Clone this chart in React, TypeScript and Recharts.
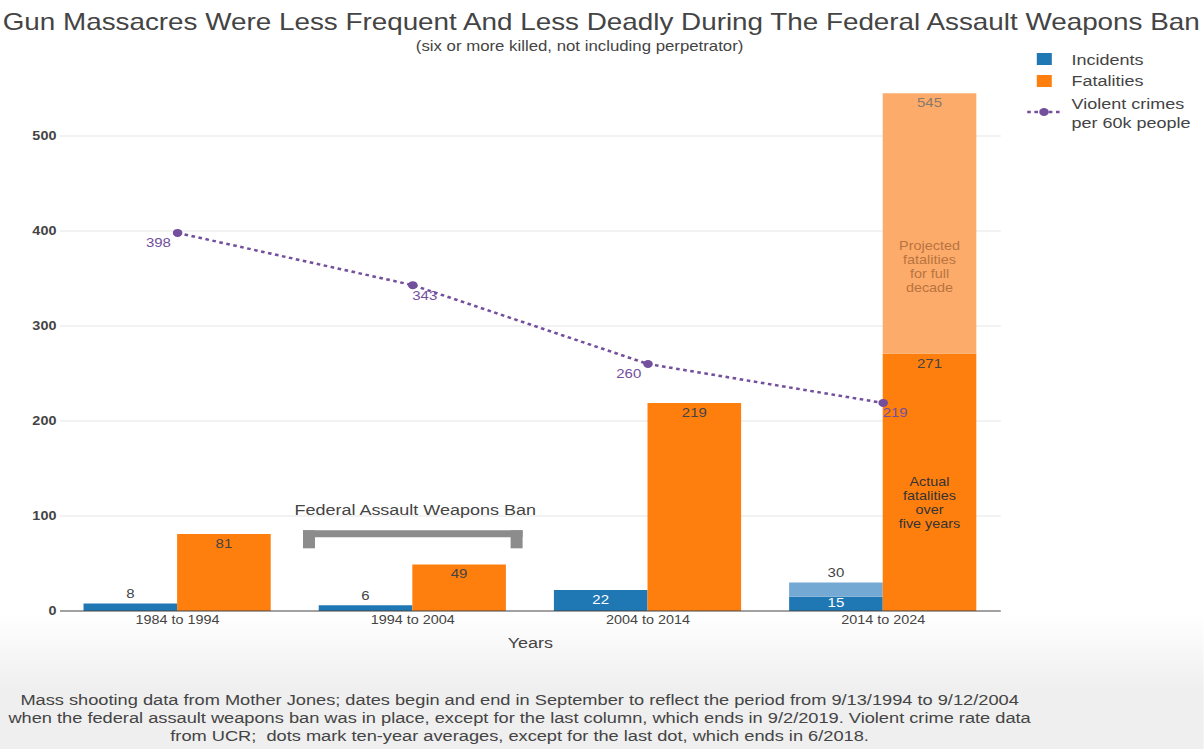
import React from 'react';
import {
  ComposedChart,
  Bar,
  Line,
  XAxis,
  YAxis,
  CartesianGrid,
  LabelList,
  ReferenceArea,
  Label,
} from 'recharts';

// ---- data -------------------------------------------------------------
const periods = ['1984 to 1994', '1994 to 2004', '2004 to 2014', '2014 to 2024'];
const incidents = [8, 6, 22, 15];
const incidentsFullDecade = [8, 6, 22, 30];
const fatalities = [81, 49, 219, 271];
const fatalitiesFullDecade = [81, 49, 219, 545];
const violentCrimesPer60k = [398, 343, 260, 219];
const yTicks = [0, 100, 200, 300, 400, 500];
const banPeriod = '1994 to 2004';

const rows = periods.map((period, i) => ({
  period,
  incidents: incidents[i],
  incidentsProjected: incidentsFullDecade[i] - incidents[i],
  incidentsTotal: incidentsFullDecade[i],
  fatalities: fatalities[i],
  fatalitiesProjected: fatalitiesFullDecade[i] - fatalities[i],
  fatalitiesTotal: fatalitiesFullDecade[i],
  violentCrimes: violentCrimesPer60k[i],
}));

// ---- styling ----------------------------------------------------------
const FONT = '"Liberation Sans", Arial, Helvetica, sans-serif';
const BLUE = '#1f77b4';
const BLUE_LIGHT = '#74a9d3';
const ORANGE = '#ff7f0e';
const ORANGE_LIGHT = '#fdab6b';
const PURPLE = '#734f9c';
const TEXT = '#444';

// the figure is laid out on a narrower canvas and stretched horizontally
const STRETCH = 1.2;
const PAGE_W = 1204;
const PAGE_H = 749;
const CANVAS_W = PAGE_W / STRETCH;

function boxOf(p: any) {
  const vb = p.viewBox || {};
  return {
    x: Number(vb.x ?? p.x ?? 0),
    y: Number(vb.y ?? p.y ?? 0),
    w: Number(vb.width ?? p.width ?? 0),
    h: Number(vb.height ?? p.height ?? 0),
  };
}

const labelText = {
  fontFamily: FONT,
  fontSize: 12.5,
  textAnchor: 'middle' as const,
};

function MultiLine({ cx, cy, lines, fill }: { cx: number; cy: number; lines: string[]; fill: string }) {
  const step = 14;
  return (
    <text {...labelText} fontSize={12} fill={fill}>
      {lines.map((l, k) => (
        <tspan key={k} x={cx} y={cy + (k - (lines.length - 1) / 2) * step + 4.5}>
          {l}
        </tspan>
      ))}
    </text>
  );
}

// incident count: inside the bar when it fits, otherwise just above it
const incidentLabel = (p: any) => {
  const { x, y, w, h } = boxOf(p);
  const v = Number(p.value);
  if (!v) return null;
  const cx = x + w / 2;
  if (h >= 12) {
    return (
      <text {...labelText} x={cx} y={Math.min(y + 14, y + h - 4)} fill="#fff">
        {v}
      </text>
    );
  }
  return (
    <text {...labelText} x={cx} y={y - 5} fill={TEXT}>
      {v}
    </text>
  );
};

// full-decade incident total above the projected segment
const incidentTotalLabel = (p: any) => {
  const { x, y, w, h } = boxOf(p);
  if (h < 0.5) return null;
  return (
    <text {...labelText} x={x + w / 2} y={y - 5} fill={TEXT}>
      {p.value}
    </text>
  );
};

const fatalityLabel = (p: any) => {
  const { x, y, w, h } = boxOf(p);
  if (h < 0.5) return null;
  return (
    <text {...labelText} x={x + w / 2} y={y + 14} fill={TEXT}>
      {p.value}
    </text>
  );
};

// projected segment: decade total plus its explanation
const fatalityTotalLabel = (p: any) => {
  const { x, y, w, h } = boxOf(p);
  if (h < 0.5) return null;
  const cx = x + w / 2;
  return (
    <g>
      <text {...labelText} x={cx} y={y + 14} fill="#8a7968">
        {p.value}
      </text>
      <MultiLine
        cx={cx}
        cy={y + h * 0.664}
        lines={['Projected', 'fatalities', 'for full', 'decade']}
        fill="#b8743f"
      />
    </g>
  );
};

// actual segment of a column that also carries a projection
const actualNoteLabel = (p: any) => {
  const { x, y, w, h } = boxOf(p);
  if (!Number(p.value)) return null;
  return (
    <MultiLine
      cx={x + w / 2}
      cy={y + h * 0.577}
      lines={['Actual', 'fatalities', 'over', 'five years']}
      fill="#333"
    />
  );
};

const crimeLabel = (p: any) => {
  const { x, y } = boxOf(p);
  const i = p.index ?? violentCrimesPer60k.indexOf(Number(p.value));
  const dx = i % 2 === 0 ? -16 : 10;
  return (
    <text {...labelText} x={x + dx} y={y + 14.5} fill={PURPLE}>
      {p.value}
    </text>
  );
};

// grey bracket marking the assault weapons ban decade
const BanBracket = (p: any) => {
  const x = Number(p.x);
  const y = Number(p.y);
  const width = Number(p.width);
  const height = Number(p.height);
  const inset = 6.5;
  const leg = 10;
  const bar = 7;
  const left = x + inset;
  const right = x + width - inset;
  return (
    <g>
      <rect x={left} y={y} width={right - left} height={bar} fill="#8c8c8c" />
      <rect x={left} y={y} width={leg} height={height} fill="#8c8c8c" />
      <rect x={right - leg} y={y} width={leg} height={height} fill="#8c8c8c" />
      <text
        x={x + width / 2 + 2}
        y={y - 15}
        textAnchor="middle"
        fontFamily={FONT}
        fontSize={15}
        fill={TEXT}
      >
        Federal Assault Weapons Ban
      </text>
    </g>
  );
};

const footerLines = [
  'Mass shooting data from Mother Jones; dates begin and end in September to reflect the period from 9/13/1994 to 9/12/2004',
  'when the federal assault weapons ban was in place, except for the last column, which ends in 9/2/2019. Violent crime rate data',
  'from UCR;  dots mark ten-year averages, except for the last dot, which ends in 6/2018.',
];

function Legend() {
  return (
    <g fontFamily={FONT} fontSize={15} fill={TEXT}>
      <rect x={864} y={53} width={12.5} height={12} fill={BLUE} />
      <text x={893} y={65.2}>Incidents</text>
      <rect x={864} y={75} width={12.5} height={12} fill={ORANGE} />
      <text x={893} y={86.4}>Fatalities</text>
      <line
        x1={856}
        x2={884}
        y1={112}
        y2={112}
        stroke={PURPLE}
        strokeWidth={2.5}
        strokeDasharray="3 3"
      />
      <circle cx={870} cy={112} r={4} fill={PURPLE} />
      <text x={893} y={109}>Violent crimes</text>
      <text x={893} y={128.5}>per 60k people</text>
    </g>
  );
}

export default function App() {
  return (
    <div style={{ width: PAGE_W, height: PAGE_H, overflow: 'hidden', position: 'relative' }}>
      <style>{'body{margin:0;}'}</style>
      <div
        style={{
          position: 'absolute',
          left: 0,
          top: 0,
          width: CANVAS_W,
          height: PAGE_H,
          transform: `scaleX(${STRETCH})`,
          transformOrigin: '0 0',
          background:
            'linear-gradient(to bottom, #ffffff 0px, #ffffff 614px, #efefef 690px, #efefef 749px)',
        }}
      >
        <div style={{ position: 'absolute', left: 0, top: 0 }}>
          <ComposedChart
            width={CANVAS_W}
            height={PAGE_H}
            data={rows}
            margin={{ top: 64.75, right: CANVAS_W - 834, bottom: 98, left: 0 }}
            barCategoryGap="10%"
            barGap={0}
          >
            <CartesianGrid
              vertical={false}
              horizontalValues={yTicks.slice(1)}
              stroke="#e6e6e6"
              strokeWidth={1}
            />
            <XAxis
              dataKey="period"
              height={40}
              tickLine={false}
              tickSize={0}
              tickMargin={4}
              axisLine={{ stroke: '#444', strokeWidth: 1.2 }}
              tick={{ fontSize: 12, fill: TEXT, fontFamily: FONT }}
            >
              <Label
                value="Years"
                position="insideBottom"
                offset={3}
                style={{ fontSize: 15, fill: TEXT, fontFamily: FONT }}
              />
            </XAxis>
            <YAxis
              width={50}
              domain={[0, 575]}
              ticks={yTicks}
              axisLine={false}
              tickLine={false}
              tickSize={0}
              tickMargin={3}
              tick={{ fontSize: 12, fill: TEXT, fontFamily: FONT, fontWeight: 600 }}
            />
            <ReferenceArea
              x1={banPeriod}
              x2={banPeriod}
              y1={66}
              y2={85}
              shape={BanBracket}
              ifOverflow="visible"
            />
            <Bar dataKey="incidents" stackId="incidents" fill={BLUE} isAnimationActive={false}>
              <LabelList dataKey="incidents" content={incidentLabel} />
            </Bar>
            <Bar
              dataKey="incidentsProjected"
              stackId="incidents"
              fill={BLUE_LIGHT}
              isAnimationActive={false}
            >
              <LabelList dataKey="incidentsTotal" content={incidentTotalLabel} />
            </Bar>
            <Bar dataKey="fatalities" stackId="fatalities" fill={ORANGE} isAnimationActive={false}>
              <LabelList dataKey="fatalities" content={fatalityLabel} />
              <LabelList dataKey="fatalitiesProjected" content={actualNoteLabel} />
            </Bar>
            <Bar
              dataKey="fatalitiesProjected"
              stackId="fatalities"
              fill={ORANGE_LIGHT}
              isAnimationActive={false}
            >
              <LabelList dataKey="fatalitiesTotal" content={fatalityTotalLabel} />
            </Bar>
            <Line
              type="linear"
              dataKey="violentCrimes"
              stroke={PURPLE}
              strokeWidth={2.5}
              strokeDasharray="3 3"
              dot={{ r: 4, fill: PURPLE, stroke: PURPLE, strokeWidth: 0 }}
              activeDot={false}
              isAnimationActive={false}
            >
              <LabelList dataKey="violentCrimes" content={crimeLabel} />
            </Line>
          </ComposedChart>
        </div>
        <svg
          width={CANVAS_W}
          height={PAGE_H}
          style={{ position: 'absolute', left: 0, top: 0, pointerEvents: 'none' }}
        >
          <text x={501} y={30.5} textAnchor="middle" fontFamily={FONT} fontSize={23.2} fill={TEXT}>
            Gun Massacres Were Less Frequent And Less Deadly During The Federal Assault Weapons Ban
          </text>
          <text x={483} y={51} textAnchor="middle" fontFamily={FONT} fontSize={14} fill={TEXT}>
            (six or more killed, not including perpetrator)
          </text>
          <Legend />
          <text
            textAnchor="middle"
            fontFamily={FONT}
            fontSize={15.2}
            fill={TEXT}
            style={{ whiteSpace: 'pre' }}
          >
            {footerLines.map((l, k) => (
              <tspan key={k} x={433} y={705 + k * 18}>
                {l}
              </tspan>
            ))}
          </text>
        </svg>
      </div>
    </div>
  );
}
